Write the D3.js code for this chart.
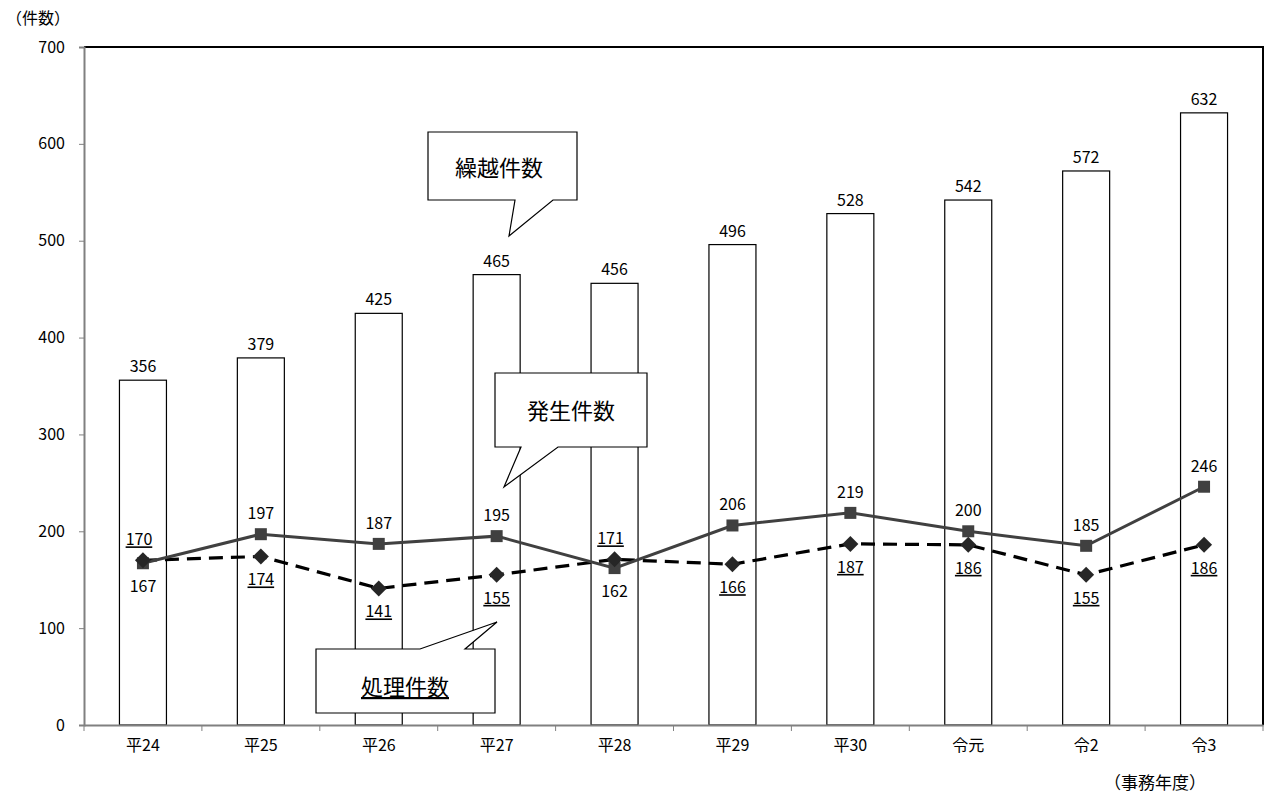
<!DOCTYPE html>
<html><head><meta charset="utf-8">
<script src="https://cdn.jsdelivr.net/npm/d3@7"></script>
<style>body{margin:0;background:#fff}svg{display:block}text{font-family:"Noto Sans CJK JP","Noto Sans",sans-serif}</style>
</head><body>
<svg id="c" width="1266" height="796"></svg>
<script>
const categories = ["平24","平25","平26","平27","平28","平29","平30","令元","令2","令3"];
const carryover = [356,379,425,465,456,496,528,542,572,632];
const occurred  = [167,197,187,195,162,206,219,200,185,246];
const processed = [170,174,141,155,171,166,187,186,155,186];
const yTicks = [0,100,200,300,400,500,600,700];
// label placement: true = above
const occurredAbove  = [false,true,true,true,false,true,true,true,true,true];
const processedAbove = [true,false,false,false,true,false,false,false,false,false];

const svg = d3.select("#c");
const L=84, R=1263, T=47, B=725;
const FS = 16;
const x = d3.scaleBand().domain(categories).range([L,R]);
const y = d3.scaleLinear().domain([0,700]).range([B,T]);
const cx = d => x(d)+x.bandwidth()/2;

// bars
const bw = 47;
svg.append("g").selectAll("rect").data(categories).join("rect")
  .attr("x", (d)=>cx(d)-bw/2).attr("y",(d,i)=>y(carryover[i]))
  .attr("width", bw).attr("height",(d,i)=>B-y(carryover[i]))
  .attr("fill","#fff").attr("stroke","#000").attr("stroke-width",1.2);
svg.append("g").selectAll("text").data(categories).join("text")
  .attr("x", d=>cx(d)).attr("y",(d,i)=>y(carryover[i])-8)
  .attr("text-anchor","middle").attr("font-size",FS).attr("fill","#000")
  .text((d,i)=>carryover[i]);

// plot border top/right
svg.append("path").attr("d",`M${L},${T}H${R}V${B}`).attr("fill","none").attr("stroke","#000").attr("stroke-width",2);

// axes
const ya = svg.append("g").attr("transform",`translate(${L},0)`)
  .call(d3.axisLeft(y).tickValues(yTicks).tickSize(5).tickPadding(14));
ya.select(".domain").attr("stroke","#808080").attr("stroke-width",2);
ya.selectAll(".tick line").attr("stroke","#808080");
ya.selectAll(".tick text").attr("font-size",FS).attr("fill","#000").attr("font-family",'"Noto Sans CJK JP",sans-serif');

const bounds = categories.map(d=>x(d)).concat([R]);
const xa = svg.append("g").attr("transform",`translate(0,${B})`)
  .call(d3.axisBottom(x).tickSize(0).tickPadding(15));
xa.select(".domain").attr("stroke","#808080").attr("stroke-width",2);
xa.selectAll(".tick text").attr("font-size",FS).attr("fill","#000").attr("font-family",'"Noto Sans CJK JP",sans-serif');
svg.append("g").selectAll("line").data(bounds).join("line")
  .attr("x1",d=>d).attr("x2",d=>d).attr("y1",B).attr("y2",B+6)
  .attr("stroke","#808080").attr("stroke-width",1);

// lines
const lineGen = d3.line().x((d,i)=>cx(categories[i])).y(d=>y(d));
svg.append("path").datum(processed).attr("d",lineGen)
  .attr("fill","none").attr("stroke","#000").attr("stroke-width",3.2).attr("stroke-dasharray","14,8");
svg.append("path").datum(occurred).attr("d",lineGen)
  .attr("fill","none").attr("stroke","#404040").attr("stroke-width",3);

// markers
svg.append("g").selectAll("rect").data(occurred).join("rect")
  .attr("x",(d,i)=>cx(categories[i])-6).attr("y",d=>y(d)-6)
  .attr("width",12).attr("height",12).attr("fill","#404040");
svg.append("g").selectAll("path").data(processed).join("path")
  .attr("d",(d,i)=>{const px=cx(categories[i]),py=y(d),r=8;return `M${px},${py-r}L${px+r},${py}L${px},${py+r}L${px-r},${py}Z`;})
  .attr("fill","#262626");

// labels
svg.append("g").selectAll("text").data(occurred).join("text")
  .attr("x",(d,i)=>cx(categories[i])).attr("y",(d,i)=>occurredAbove[i]? y(d)-15 : y(d)+29)
  .attr("text-anchor","middle").attr("font-size",FS).attr("fill","#000").text(d=>d);
svg.append("g").selectAll("text").data(processed).join("text")
  .attr("x",(d,i)=>cx(categories[i])-(processedAbove[i]?4:0)).attr("y",(d,i)=>processedAbove[i]? y(d)-15 : y(d)+29)
  .attr("text-anchor","middle").attr("font-size",FS).attr("fill","#000")
  .attr("text-decoration","underline").text(d=>d);

// callouts
function callout(pts, tx, ty, label, underline){
  svg.append("path").attr("d","M"+pts.map(p=>p.join(",")).join("L")+"Z")
    .attr("fill","#fff").attr("stroke","#000").attr("stroke-width",1.2);
  const t = svg.append("text").attr("x",tx).attr("y",ty).attr("text-anchor","middle")
    .attr("font-size",22).attr("fill","#000").text(label);
  if(underline) t.attr("text-decoration","underline");
}
callout([[428,132],[577,132],[577,200],[553,200],[509,236],[515,200],[428,200]], 499,176,"繰越件数");
callout([[495,373],[647,373],[647,447],[558,447],[504,487],[521,447],[495,447]], 571,419,"発生件数");
callout([[316,649],[420,649],[497,622],[465,649],[495,649],[495,713],[316,713]], 405,695,"処理件数",true);

// titles
svg.append("text").attr("x",6).attr("y",24).attr("font-size",16).attr("fill","#000").text("（件数）");
svg.append("text").attr("x",1104).attr("y",789).attr("font-size",17).attr("fill","#000").text("（事務年度）");
</script>
</body></html>
